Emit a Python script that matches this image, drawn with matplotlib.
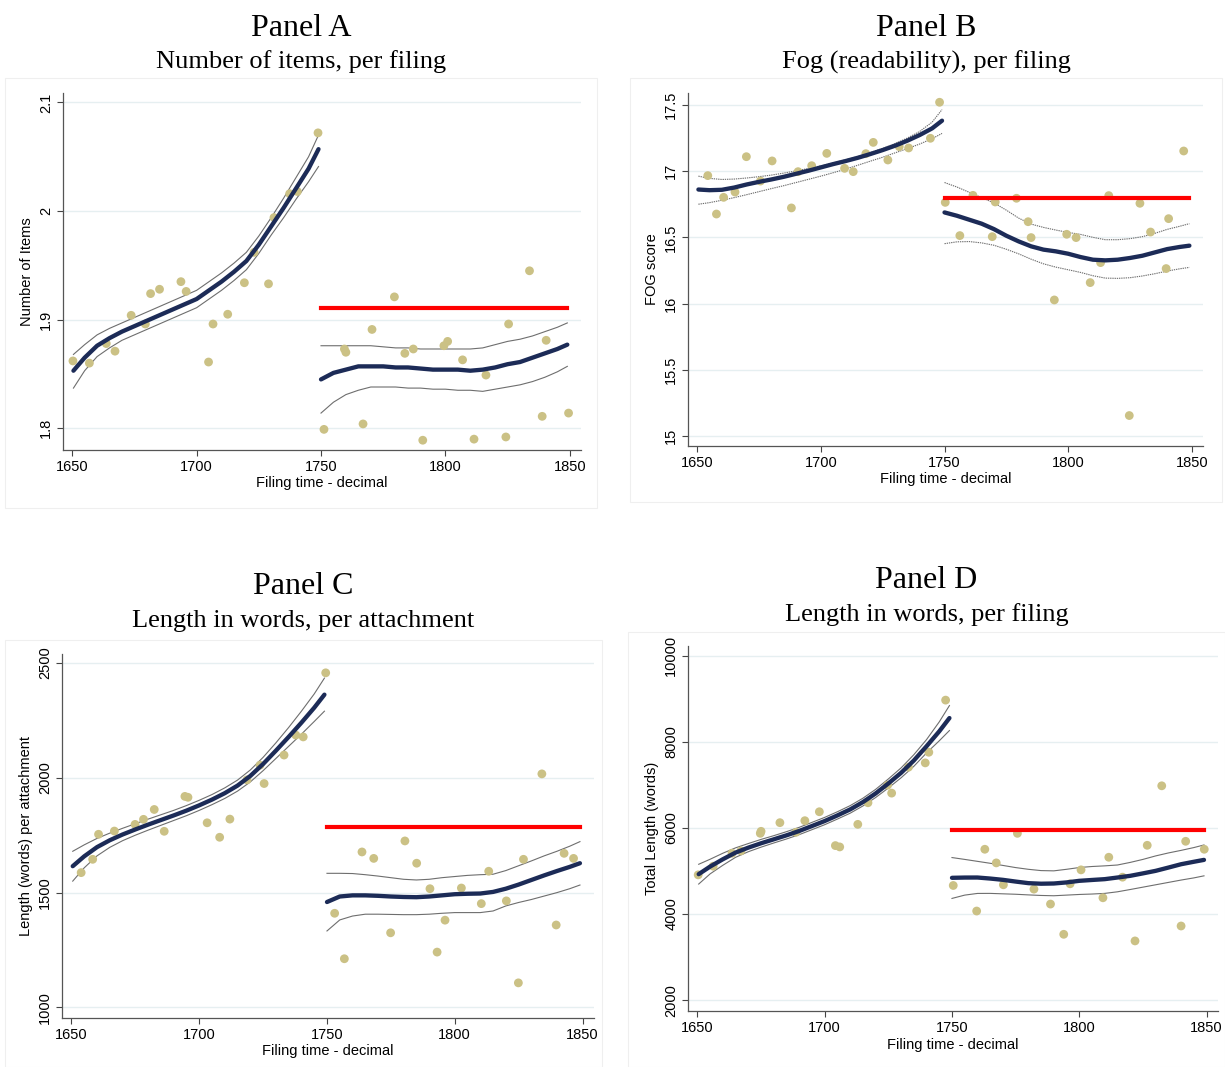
import matplotlib
matplotlib.use("Agg")
import matplotlib.pyplot as plt
from matplotlib.patches import Rectangle

# ---------------- Panel A: Number of items, per filing ----------------
a_x_pre = [1650.3, 1656.9, 1663.7, 1667.2, 1673.7, 1679.4, 1681.5, 1685.1, 1693.7, 1695.8,
           1704.8, 1706.6, 1712.5, 1719.2, 1723.1, 1728.9, 1731.1, 1737.4, 1740.5, 1748.8]
a_y_pre = [1.862, 1.860, 1.878, 1.871, 1.904, 1.896, 1.924, 1.928, 1.935, 1.926,
           1.861, 1.896, 1.905, 1.934, 1.962, 1.933, 1.994, 2.016, 2.018, 2.072]
a_x_post = [1751.2, 1759.4, 1760.0, 1766.9, 1770.5, 1779.5, 1783.7, 1787.1, 1790.9, 1799.4,
            1800.9, 1806.9, 1811.5, 1816.3, 1824.3, 1825.4, 1833.8, 1838.9, 1840.5, 1849.5]
a_y_post = [1.799, 1.873, 1.870, 1.804, 1.891, 1.921, 1.869, 1.873, 1.789, 1.876,
            1.880, 1.863, 1.790, 1.849, 1.792, 1.896, 1.945, 1.811, 1.881, 1.814]
fit_pre_x = [1650.5, 1655, 1660, 1665, 1670, 1675, 1680, 1685, 1690, 1695, 1700,
             1705, 1710, 1715, 1720, 1725, 1730, 1735, 1740, 1745, 1749]
fit_post_x = [1750, 1755, 1760, 1765, 1770, 1775, 1780, 1785, 1790, 1795, 1800,
              1805, 1810, 1815, 1820, 1825, 1830, 1835, 1840, 1845, 1849]
a_fit_pre_y = [1.853, 1.865, 1.876, 1.883, 1.889, 1.894, 1.899, 1.904, 1.909, 1.914, 1.919,
               1.927, 1.935, 1.944, 1.954, 1.969, 1.986, 2.003, 2.021, 2.039, 2.057]
a_fit_pre_hi = [1.868, 1.877, 1.886, 1.892, 1.897, 1.902, 1.907, 1.912, 1.917, 1.922, 1.927,
                1.935, 1.943, 1.952, 1.962, 1.977, 1.994, 2.012, 2.031, 2.050, 2.070]
a_fit_pre_lo = [1.837, 1.853, 1.866, 1.874, 1.881, 1.886, 1.891, 1.896, 1.901, 1.906, 1.911,
                1.919, 1.927, 1.936, 1.946, 1.961, 1.978, 1.994, 2.011, 2.027, 2.041]
a_fit_post_y = [1.845, 1.851, 1.854, 1.857, 1.857, 1.857, 1.856, 1.856, 1.855, 1.854, 1.854,
                1.854, 1.853, 1.854, 1.856, 1.859, 1.861, 1.865, 1.869, 1.873, 1.877]
a_fit_post_hi = [1.876, 1.876, 1.876, 1.876, 1.876, 1.875, 1.874, 1.874, 1.873, 1.873, 1.873,
                 1.873, 1.873, 1.874, 1.877, 1.880, 1.882, 1.885, 1.889, 1.893, 1.897]
a_fit_post_lo = [1.814, 1.824, 1.831, 1.835, 1.838, 1.838, 1.838, 1.837, 1.837, 1.836, 1.836,
                 1.835, 1.835, 1.834, 1.836, 1.838, 1.840, 1.843, 1.847, 1.852, 1.857]
a_mean_post = 1.911

# ---------------- Panel B: Fog (readability), per filing ----------------
b_x_pre = [1654.3, 1657.8, 1660.7, 1665.3, 1669.9, 1675.6, 1680.3, 1688.1, 1690.8, 1696.3,
           1702.4, 1709.6, 1713.1, 1718.2, 1721.2, 1727.1, 1731.7, 1735.5, 1744.3, 1748.0]
b_y_pre = [16.966, 16.676, 16.802, 16.842, 17.109, 16.925, 17.077, 16.722, 16.996, 17.041,
           17.134, 17.021, 16.996, 17.132, 17.217, 17.084, 17.185, 17.175, 17.248, 17.520]
b_x_post = [1750.3, 1756.2, 1761.5, 1769.3, 1770.5, 1779.1, 1783.8, 1785.0, 1794.4, 1799.4,
            1803.2, 1808.9, 1813.1, 1816.4, 1824.7, 1829.0, 1833.3, 1839.6, 1840.6, 1846.7]
b_y_post = [16.764, 16.513, 16.817, 16.505, 16.767, 16.795, 16.618, 16.498, 16.027, 16.523,
            16.498, 16.158, 16.309, 16.815, 15.154, 16.757, 16.540, 16.264, 16.641, 17.152]
b_fit_pre_y = [16.861, 16.856, 16.859, 16.876, 16.899, 16.919, 16.937, 16.957, 16.980, 17.003, 17.028,
               17.053, 17.076, 17.101, 17.129, 17.159, 17.192, 17.230, 17.273, 17.323, 17.381]
b_fit_pre_hi = [16.962, 16.945, 16.937, 16.940, 16.948, 16.958, 16.970, 16.985, 17.002, 17.020, 17.040,
                17.062, 17.085, 17.110, 17.140, 17.172, 17.208, 17.250, 17.300, 17.370, 17.465]
b_fit_pre_lo = [16.750, 16.762, 16.780, 16.800, 16.822, 16.845, 16.868, 16.890, 16.914, 16.938, 16.962,
                16.988, 17.015, 17.045, 17.075, 17.105, 17.138, 17.170, 17.205, 17.245, 17.285]
b_fit_post_y = [16.688, 16.663, 16.633, 16.603, 16.562, 16.512, 16.469, 16.432, 16.407, 16.394, 16.376,
                16.351, 16.331, 16.326, 16.331, 16.344, 16.361, 16.386, 16.411, 16.427, 16.437]
b_fit_post_hi = [16.914, 16.880, 16.840, 16.800, 16.760, 16.705, 16.645, 16.600, 16.575, 16.555, 16.537,
                 16.522, 16.500, 16.482, 16.482, 16.490, 16.505, 16.530, 16.560, 16.583, 16.603]
b_fit_post_lo = [16.452, 16.466, 16.468, 16.458, 16.440, 16.410, 16.375, 16.335, 16.300, 16.275, 16.255,
                 16.235, 16.210, 16.192, 16.190, 16.195, 16.208, 16.225, 16.245, 16.262, 16.273]
b_mean_post = 16.795

# ---------------- Panel C: Length in words, per attachment ----------------
c_x_pre = [1653.8, 1658.3, 1660.6, 1666.8, 1674.9, 1678.2, 1682.4, 1686.3, 1694.4, 1695.6,
           1703.1, 1708.0, 1712.0, 1718.7, 1723.8, 1725.4, 1733.2, 1737.8, 1740.7, 1749.5]
c_y_pre = [1587, 1645, 1754, 1768, 1797, 1819, 1862, 1767, 1919, 1915,
           1804, 1741, 1820, 1991, 2055, 1975, 2099, 2186, 2178, 2457]
c_x_post = [1753.0, 1756.8, 1763.7, 1768.3, 1774.9, 1780.5, 1785.1, 1790.3, 1793.1, 1796.2,
            1802.6, 1810.4, 1813.3, 1820.2, 1824.9, 1826.9, 1834.1, 1839.7, 1842.8, 1846.5]
c_y_post = [1410, 1212, 1677, 1649, 1325, 1725, 1628, 1517, 1241, 1380,
            1520, 1452, 1593, 1464, 1107, 1645, 2017, 1359, 1671, 1649]
c_fit_pre_y = [1615, 1658, 1698, 1728, 1753, 1775, 1796, 1816, 1836, 1857, 1880,
               1905, 1933, 1966, 2008, 2060, 2118, 2178, 2240, 2305, 2362]
c_fit_pre_hi = [1680, 1708, 1736, 1759, 1780, 1800, 1820, 1839, 1858, 1879, 1902,
                1927, 1956, 1990, 2034, 2089, 2152, 2219, 2290, 2365, 2434]
c_fit_pre_lo = [1550, 1608, 1660, 1697, 1726, 1750, 1772, 1793, 1814, 1835, 1858,
                1883, 1910, 1942, 1982, 2031, 2084, 2137, 2190, 2245, 2290]
c_fit_post_y = [1459, 1483, 1488, 1488, 1486, 1483, 1481, 1480, 1483, 1488, 1493,
                1495, 1496, 1503, 1517, 1535, 1555, 1575, 1594, 1612, 1628]
c_fit_post_hi = [1584, 1584, 1583, 1578, 1572, 1565, 1558, 1555, 1558, 1565, 1570,
                 1575, 1578, 1580, 1596, 1617, 1638, 1660, 1680, 1702, 1722]
c_fit_post_lo = [1333, 1381, 1398, 1406, 1406, 1405, 1404, 1404, 1406, 1410, 1413,
                 1413, 1413, 1420, 1442, 1457, 1470, 1485, 1500, 1517, 1533]
c_mean_post = 1786

# ---------------- Panel D: Length in words, per filing ----------------
d_x_pre = [1650.3, 1656.2, 1663.6, 1667.1, 1674.7, 1675.0, 1682.4, 1688.7, 1692.2, 1697.9,
           1704.2, 1705.9, 1713.0, 1717.0, 1724.7, 1726.3, 1732.9, 1739.5, 1740.9, 1747.5]
d_y_pre = [4911, 5112, 5413, 5467, 5876, 5923, 6124, 5900, 6170, 6378,
           5591, 5560, 6085, 6587, 6996, 6811, 7413, 7514, 7761, 8973]
d_x_post = [1750.5, 1759.7, 1762.9, 1767.4, 1770.2, 1775.7, 1782.2, 1788.7, 1793.9, 1796.4,
            1800.7, 1809.3, 1811.6, 1817.0, 1821.9, 1826.7, 1832.4, 1840.0, 1841.8, 1849.1]
d_y_post = [4664, 4070, 5506, 5189, 4680, 5876, 4579, 4232, 3529, 4703,
            5027, 4378, 5320, 4857, 3375, 5598, 6981, 3722, 5691, 5506]
d_fit_pre_y = [4927, 5104, 5274, 5429, 5544, 5645, 5737, 5830, 5931, 6046, 6162,
               6293, 6432, 6602, 6803, 7035, 7282, 7568, 7900, 8247, 8556]
d_fit_pre_hi = [5157, 5274, 5414, 5539, 5639, 5735, 5822, 5915, 6016, 6131, 6247,
                6378, 6520, 6692, 6898, 7140, 7397, 7703, 8055, 8467, 8846]
d_fit_pre_lo = [4697, 4934, 5134, 5319, 5449, 5555, 5652, 5745, 5846, 5961, 6077,
                6208, 6344, 6512, 6708, 6930, 7167, 7433, 7745, 8027, 8266]
d_fit_post_y = [4842, 4848, 4849, 4825, 4795, 4755, 4718, 4705, 4710, 4735, 4772,
                4792, 4811, 4849, 4888, 4945, 5004, 5080, 5158, 5215, 5259]
d_fit_post_hi = [5313, 5270, 5225, 5180, 5130, 5080, 5040, 5010, 5004, 5040, 5081,
                 5105, 5120, 5140, 5200, 5270, 5351, 5420, 5480, 5545, 5606]
d_fit_post_lo = [4363, 4440, 4479, 4480, 4470, 4460, 4445, 4432, 4425, 4440, 4455,
                 4465, 4480, 4517, 4570, 4625, 4680, 4735, 4790, 4840, 4888]
d_mean_post = 5960

W, H = 1225, 1067
fig = plt.figure(figsize=(W / 100, H / 100), dpi=100)
fig.patch.set_facecolor("white")

SANS = "Liberation Sans"
SERIF = "Liberation Serif"
PT_COL = "#cbc185"
NAVY = "#1c2b57"
CI_COL = "#6e6e6e"
GRID_COL = "#e6eff1"

panels = [
    dict(title="Panel A", sub="Number of items, per filing", ylabel="Number of Items",
         box=(63, 581, 93, 450), frame=(5, 597, 78, 508), ty=(28, 62),
         ylim=(1.780, 2.1087), yticks=[1.8, 1.9, 2.0, 2.1], ylabels=["1.8", "1.9", "2", "2.1"],
         xp=a_x_pre, yp=a_y_pre, xq=a_x_post, yq=a_y_post,
         f1=(a_fit_pre_y, a_fit_pre_hi, a_fit_pre_lo),
         f2=(a_fit_post_y, a_fit_post_hi, a_fit_post_lo),
         mean=a_mean_post, ci_style="-"),
    dict(title="Panel B", sub="Fog (readability), per filing", ylabel="FOG score",
         box=(688, 1203, 93, 446), frame=(630, 1222, 78, 502), ty=(28, 62),
         ylim=(14.924, 17.59), yticks=[15, 15.5, 16, 16.5, 17, 17.5],
         ylabels=["15", "15.5", "16", "16.5", "17", "17.5"],
         xp=b_x_pre, yp=b_y_pre, xq=b_x_post, yq=b_y_post,
         f1=(b_fit_pre_y, b_fit_pre_hi, b_fit_pre_lo),
         f2=(b_fit_post_y, b_fit_post_hi, b_fit_post_lo),
         mean=b_mean_post, ci_style=(0, (1.2, 0.8))),
    dict(title="Panel C", sub="Length in words, per attachment",
         ylabel="Length (words) per attachment",
         box=(62, 594, 654, 1018), frame=(5, 602, 640, 1067), ty=(587, 621),
         ylim=(954, 2539), yticks=[1000, 1500, 2000, 2500],
         ylabels=["1000", "1500", "2000", "2500"],
         xp=c_x_pre, yp=c_y_pre, xq=c_x_post, yq=c_y_post,
         f1=(c_fit_pre_y, c_fit_pre_hi, c_fit_pre_lo),
         f2=(c_fit_post_y, c_fit_post_hi, c_fit_post_lo),
         mean=c_mean_post, ci_style="-"),
    dict(title="Panel D", sub="Length in words, per filing", ylabel="Total Length (words)",
         box=(688, 1218, 646, 1011), frame=(628, 1225, 632, 1067), ty=(580, 615),
         ylim=(1746, 10231), yticks=[2000, 4000, 6000, 8000, 10000],
         ylabels=["2000", "4000", "6000", "8000", "10000"],
         xp=d_x_pre, yp=d_y_pre, xq=d_x_post, yq=d_y_post,
         f1=(d_fit_pre_y, d_fit_pre_hi, d_fit_pre_lo),
         f2=(d_fit_post_y, d_fit_post_hi, d_fit_post_lo),
         mean=d_mean_post, ci_style="-"),
]

for p in panels:
    fx0, fx1, fy0, fy1 = p["frame"]
    fig.patches.append(Rectangle((fx0 / W, 1 - fy1 / H), (fx1 - fx0) / W, (fy1 - fy0) / H,
                                 transform=fig.transFigure, fill=False,
                                 edgecolor="#efefef", linewidth=0.8))
    x0, x1, y0, y1 = p["box"]
    ax = fig.add_axes([x0 / W, 1 - y1 / H, (x1 - x0) / W, (y1 - y0) / H])
    ax.set_xlim(1646.3, 1854.5)
    ax.set_ylim(*p["ylim"])
    ax.set_xticks([1650, 1700, 1750, 1800, 1850])
    ax.set_xticklabels(["1650", "1700", "1750", "1800", "1850"], fontfamily=SANS, fontsize=10.5)
    ax.set_yticks(p["yticks"])
    ax.set_yticklabels(p["ylabels"], fontfamily=SANS, fontsize=10.5, rotation=90, va="center")
    for yt in p["yticks"]:
        ax.axhline(yt, color=GRID_COL, linewidth=1.0, zorder=0)
    for s in ["top", "right"]:
        ax.spines[s].set_visible(False)
    for s in ["left", "bottom"]:
        ax.spines[s].set_color("#555555")
        ax.spines[s].set_linewidth(0.9)
    ax.tick_params(direction="out", length=4, width=0.8, color="#444444", pad=3)
    ax.set_xlabel("Filing time - decimal", fontfamily=SANS, fontsize=10.5, labelpad=2)
    ax.set_ylabel(p["ylabel"], fontfamily=SANS, fontsize=10.5, labelpad=4)

    ax.scatter(p["xp"], p["yp"], s=40, color=PT_COL, edgecolors="none", zorder=3)
    ax.scatter(p["xq"], p["yq"], s=40, color=PT_COL, edgecolors="none", zorder=3)
    for fx, (fy, fhi, flo) in ((fit_pre_x, p["f1"]), (fit_post_x, p["f2"])):
        ax.plot(fx, fhi, color=CI_COL, linewidth=0.8, linestyle=p["ci_style"], zorder=2)
        ax.plot(fx, flo, color=CI_COL, linewidth=0.8, linestyle=p["ci_style"], zorder=2)
        ax.plot(fx, fy, color=NAVY, linewidth=3.1, solid_capstyle="round",
                solid_joinstyle="round", zorder=4)
    ax.plot([1750, 1849], [p["mean"], p["mean"]], color="#ff0000", linewidth=3.0, zorder=4)

    cx = (fx0 + fx1) / 2
    fig.text(cx / W, 1 - p["ty"][0] / H, p["title"], ha="center", va="center",
             fontfamily=SERIF, fontsize=23)
    fig.text(cx / W, 1 - p["ty"][1] / H, p["sub"], ha="center", va="center",
             fontfamily=SERIF, fontsize=19)

fig.savefig("out.png", dpi=100, facecolor="white")
